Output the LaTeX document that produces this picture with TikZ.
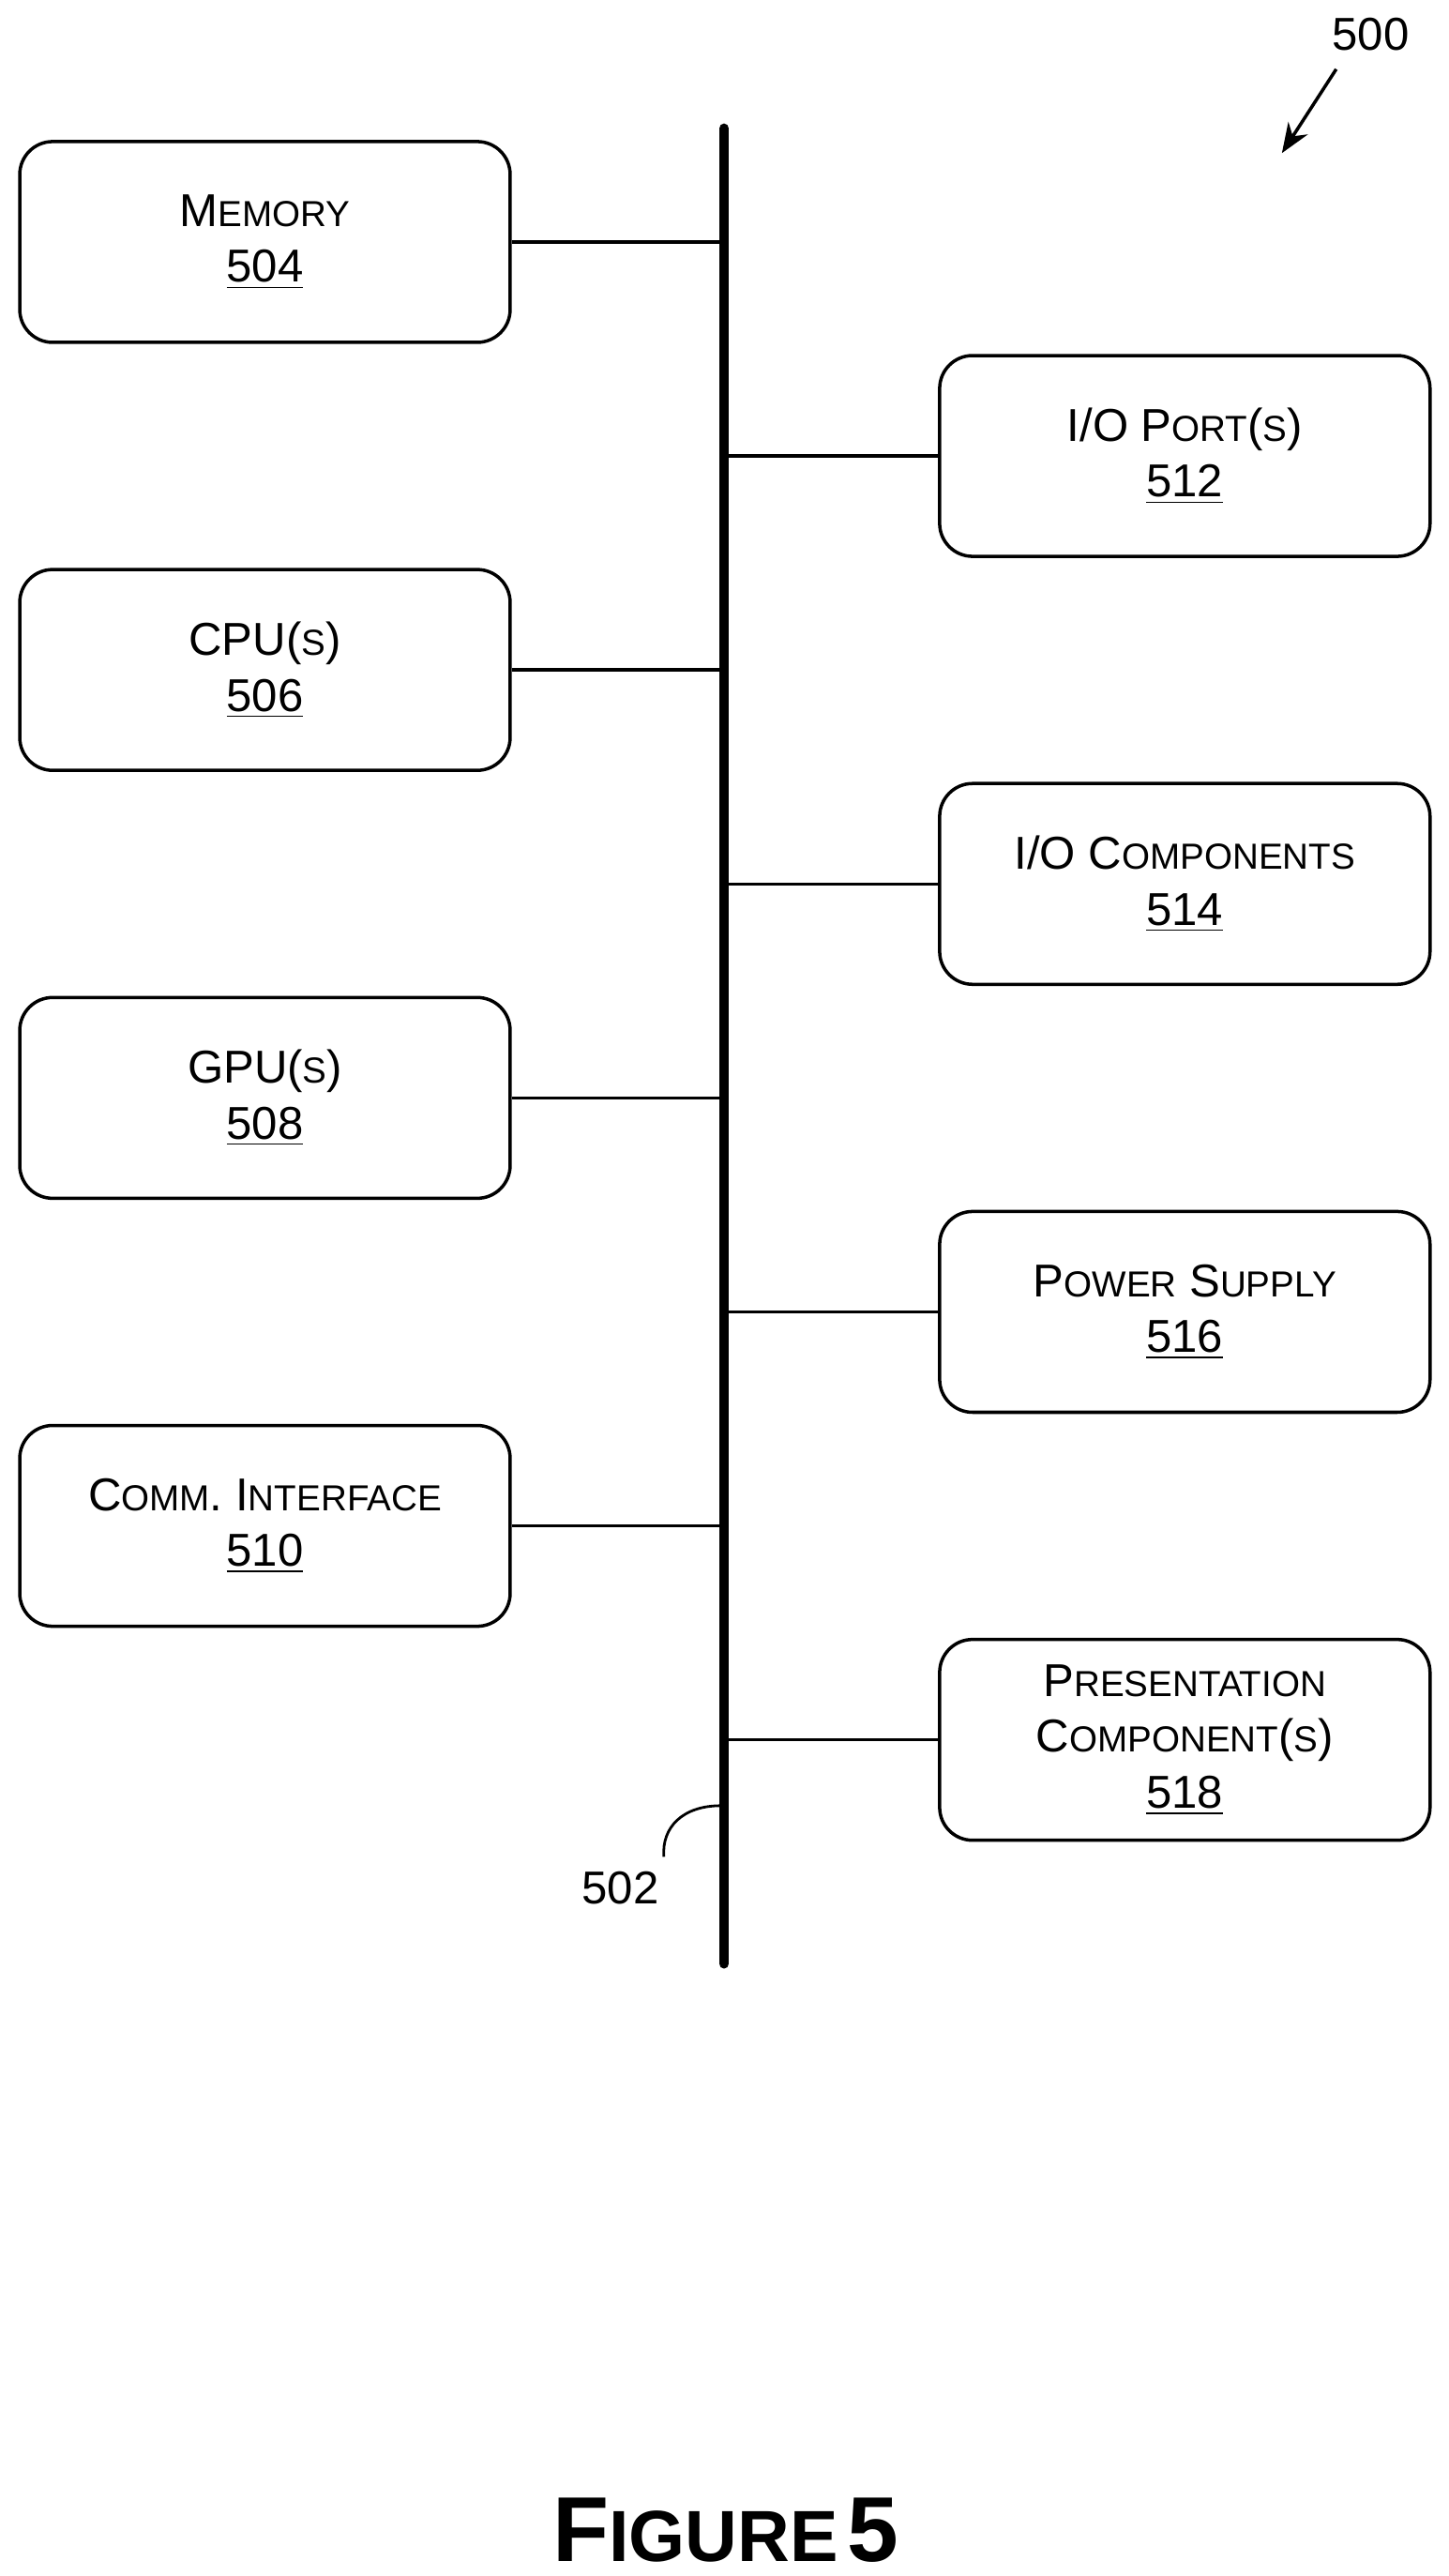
\documentclass[tikz,border=0pt]{standalone}
\usepackage{fontspec}
\setmainfont{Liberation Sans}
\usetikzlibrary{arrows.meta}
\newcommand{\scx}[2]{{\fontsize{14}{17}\selectfont #1\fontsize{11}{17}\selectfont #2}}
\newcommand{\num}[1]{\underline{#1}}
\begin{document}
\begin{tikzpicture}[x=0.5pt,y=-0.5pt,
 box/.style={draw,line width=1pt,rounded corners=10pt,minimum width=149pt,minimum height=61pt,align=center,font=\fontsize{14}{17}\selectfont,inner sep=0pt},
 conn/.style={line width=1pt}]
\useasboundingbox (0,0) rectangle (880,1565);
\coordinate (bt) at (440,78);
\coordinate (bb) at (440,1193);
\draw[line width=3pt,line cap=round] (bt) -- (bb);
\node[box] (m) at (161,147) {\scx{M}{EMORY}\\\num{504}};
\node[box] (c) at (161,407) {CPU(\scx{}{S})\\\num{506}};
\node[box] (g) at (161,667) {GPU(\scx{}{S})\\\num{508}};
\node[box] (ci) at (161,927) {\scx{C}{OMM}. \scx{I}{NTERFACE}\\\num{510}};
\node[box] (p) at (720,277) {I/O \scx{P}{ORT}(\scx{}{S})\\\num{512}};
\node[box] (io) at (720,537) {I/O \scx{C}{OMPONENTS}\\\num{514}};
\node[box] (ps) at (720,797) {\scx{P}{OWER} \scx{S}{UPPLY}\\\num{516}};
\node[box] (pc) at (720,1057) {\scx{P}{RESENTATION}\\\scx{C}{OMPONENT}(\scx{}{S})\\\num{518}};
\foreach \n/\y in {m/147,c/407,g/667,ci/927}{\draw[conn] (\n.east) -- (440,\y);}
\foreach \n/\y in {p/277,io/537,ps/797,pc/1057}{\draw[conn] (\n.west) -- (440,\y);}
\node[font=\fontsize{14}{17}\selectfont] (l500) at (833,21) {500};
\coordinate (a500) at (779,93);
\draw[line width=1pt,-{Stealth[length=9pt,width=7pt]}] (812,42) -- (a500);
\node[font=\fontsize{14}{17}\selectfont] (l502) at (377,1147) {502};
\coordinate (c502) at (438,1097);
\draw[line width=0.8pt] (l502.north east) ++(-4,-2) .. controls (402,1110) and (415,1097) .. (c502);
\node[font=\bfseries] (fig) at (441,1537) {\scx{\fontsize{28}{30}\selectfont F}{\fontsize{22}{30}\selectfont IGURE} {\fontsize{28}{30}\selectfont 5}};
\end{tikzpicture}
\end{document}
